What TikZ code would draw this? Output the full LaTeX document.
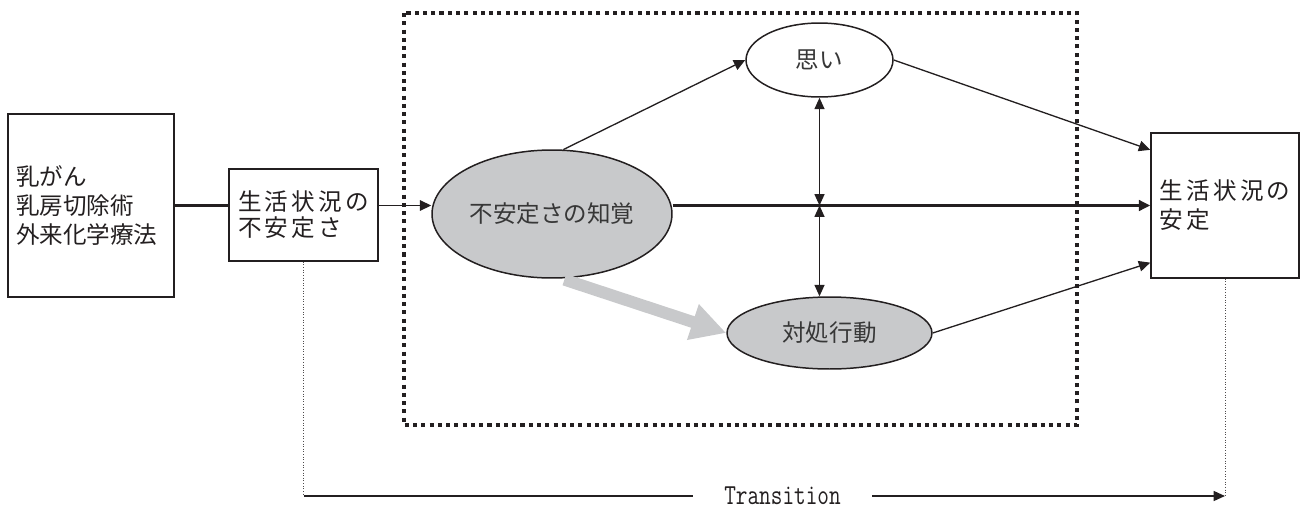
\documentclass[tikz,border=0pt]{standalone}
\usepackage{fontspec}
\usepackage{graphicx}
\newfontfamily\jpfont{Noto Sans CJK JP}
\newfontfamily\jpwidefont[LetterSpace=14]{Noto Sans CJK JP}
\usetikzlibrary{arrows.meta, positioning, calc, shapes.geometric}
\definecolor{cInk}{RGB}{35,31,32}
\definecolor{cText}{RGB}{55,55,55}
\definecolor{cFillGray}{RGB}{200,201,203}
\tikzset{
  stagebox/.style={rectangle, draw=cInk, line width=0.85pt, fill=white,
                   align=left, inner sep=0pt, text=cInk,
                   font=\jpfont\fontsize{13.4pt}{16.5pt}\selectfont},
  stageboxW/.style={stagebox, font=\jpwidefont\fontsize{13.4pt}{16.5pt}\selectfont},
  perceive/.style={ellipse, draw=cInk, line width=0.85pt, fill=cFillGray,
                   inner sep=0pt, text=cText,
                   font=\jpfont\fontsize{13.4pt}{16pt}\selectfont},
  thought/.style={perceive, fill=white},
  flow/.style={-{Triangle[length=6.5pt,width=6pt]}, draw=cInk, line width=0.75pt},
  thickflow/.style={flow, line width=1.7pt},
  thickline/.style={draw=cInk, line width=1.7pt},
  link/.style={{Triangle[length=6.5pt,width=5.7pt]}-{Triangle[length=6.5pt,width=5.7pt]},
               draw=cInk, line width=0.75pt},
  coping/.style={-{Triangle[length=20pt,width=20pt]}, draw=cFillGray, line width=6.8pt},
  groupframe/.style={draw=cInk, line width=2.3pt, dash pattern=on 2.3pt off 2.4pt},
  trace/.style={draw=cInk!80, line width=0.5pt, densely dotted},
  transline/.style={draw=cInk, line width=0.85pt},
}

\begin{document}
\begin{tikzpicture}[x=0.02cm, y=-0.02cm]

\useasboundingbox (0,0) rectangle (1305,511);

%% ============================================================
%%  Dotted frame round the inner process
%% ============================================================
\draw[groupframe] (404,13) rectangle (1077,425);

%% ----- Stage boxes -----
\node[stagebox, text width=3.0cm, inner xsep=0.16cm, minimum height=3.66cm]
  (dx) at (91,205.5) {乳がん\\乳房切除術\\外来化学療法};
\node[stageboxW, font=\jpwidefont\fontsize{13.4pt}{14.8pt}\selectfont,
      minimum width=2.98cm, minimum height=1.84cm]
  (us) at (303.5,215) {生活状況の\\不安定さ};
\node[stageboxW, minimum width=2.96cm, minimum height=2.9cm]
  (st) at (1225,205.5) {生活状況の\\安定};

%% ----- Ellipses -----
\node[perceive, minimum width=4.8cm, minimum height=2.56cm]
  (pc) at (552,214) {不安定さの知覚};
\node[thought, minimum width=2.94cm, minimum height=1.48cm]
  (ws) at (819.5,60) {思い};
\node[perceive, minimum width=4.1cm, minimum height=1.44cm]
  (tb) at (829.5,333) {対処行動};

\coordinate (jn) at (ws.south |- st.west);

%% ============================================================
%%  Connectors
%% ============================================================
\draw[thickline] (dx.east) -- (dx.east -| us.west);
\draw[flow] (us.east |- dx.east) -- (pc.west |- dx.east);
\draw[thickflow] (pc.east |- st.west) -- (st.west);

\draw[flow] (pc.80) -- (ws.west);
\draw[flow] (ws.east) -- ($(st.north west)!0.12!(st.south west)$);
\draw[flow] (tb.east) -- ($(st.north west)!0.89!(st.south west)$);

\draw[link] (ws.south) -- (jn);
\draw[link] (jn) -- (jn |- tb.north);

\draw[coping, shorten <=2pt] (pc.-82) -- (tb.west);

%% ============================================================
%%  Transition
%% ============================================================
\node[text=cInk, inner xsep=0.62cm, inner ysep=0pt,
      font=\ttfamily\fontsize{16.5pt}{19pt}\selectfont]
  (tr) at (782.5,496) {\scalebox{0.78}[1]{Transition}};

\draw[trace] (us.south) -- (us.south |- tr.west);
\draw[trace] (st.south) -- (st.south |- tr.east);
\draw[transline] (us.south |- tr.west) -- (tr.west);
\draw[transline, -{Triangle[length=6.5pt,width=5.7pt]}]
  (tr.east) -- (st.south |- tr.east);

\end{tikzpicture}
\end{document}
